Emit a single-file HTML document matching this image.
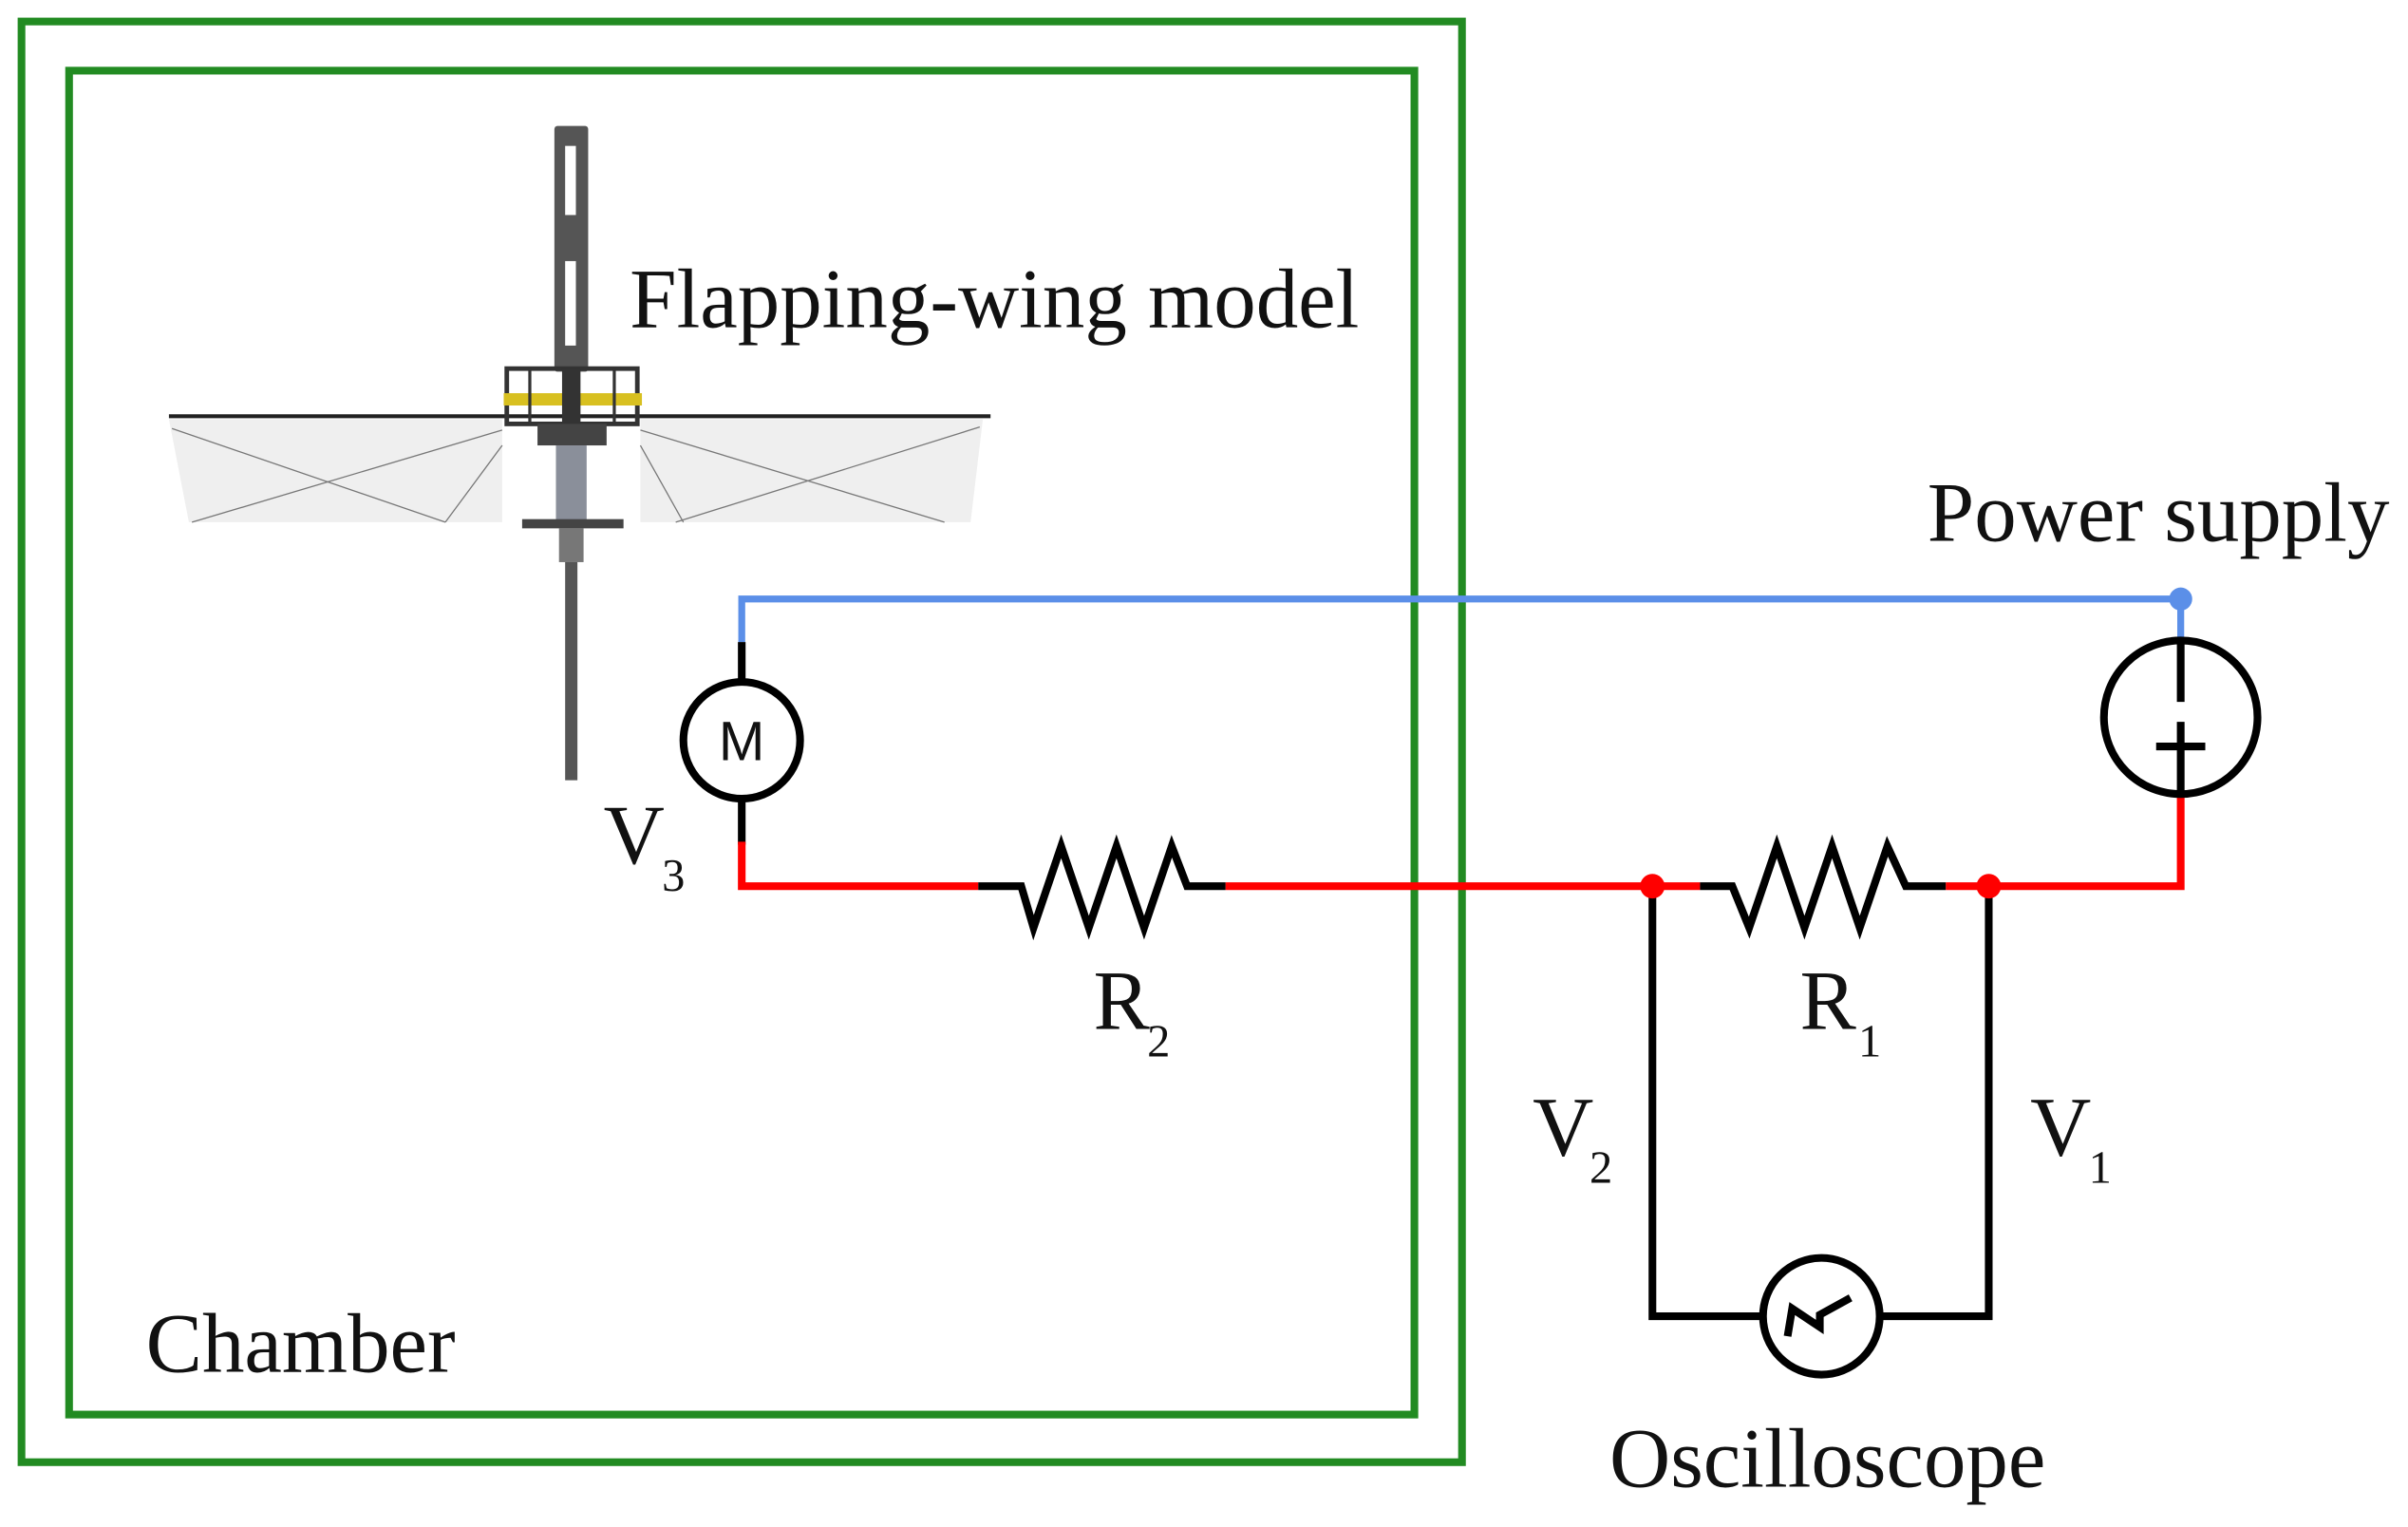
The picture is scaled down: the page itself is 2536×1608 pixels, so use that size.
<!DOCTYPE html>
<html><head><meta charset="utf-8"><style>
html,body{margin:0;padding:0;background:#fff;}
svg{display:block;}
text{font-family:"Liberation Serif",serif;fill:#111;}
</style></head><body>
<svg width="2536" height="1608" viewBox="0 0 1568 994.2" preserveAspectRatio="none" xmlns="http://www.w3.org/2000/svg">
<rect width="1568" height="994.2" fill="#fff"/>
<!-- chamber -->
<rect x="14" y="14" width="938" height="938" fill="none" stroke="#228b22" stroke-width="5"/>
<rect x="45" y="46" width="876" height="875" fill="none" stroke="#228b22" stroke-width="5"/>

<!-- wing model -->
<polygon points="110,273 327,273 327,340 123,340" fill="#efefef"/>
<polygon points="417,273 640,273 632,340 417,340" fill="#efefef"/>
<g stroke="#777" stroke-width="0.8" fill="none">
<line x1="112" y1="279" x2="290" y2="340"/><line x1="125" y1="340" x2="327" y2="280"/>
<line x1="290" y1="340" x2="327" y2="290"/>
<line x1="417" y1="280" x2="615" y2="340"/><line x1="440" y1="340" x2="638" y2="278"/>
<line x1="417" y1="290" x2="445" y2="340"/>
</g>
<line x1="110" y1="271" x2="645" y2="271" stroke="#222" stroke-width="2.5"/>
<rect x="361" y="82" width="22" height="160" rx="2" fill="#555"/>
<rect x="368" y="95" width="7" height="45" fill="#fff"/>
<rect x="368" y="170" width="7" height="55" fill="#fff"/>
<rect x="330" y="240" width="85" height="36" fill="none" stroke="#333" stroke-width="3"/>
<rect x="328" y="256" width="90" height="8" fill="#d8c020"/>
<line x1="345" y1="240" x2="345" y2="276" stroke="#333" stroke-width="2"/>
<line x1="400" y1="240" x2="400" y2="276" stroke="#333" stroke-width="2"/>
<rect x="366" y="240" width="12" height="40" fill="#333"/>
<rect x="350" y="276" width="45" height="14" fill="#444"/>
<rect x="362" y="290" width="20" height="50" fill="#8a8f9a"/>
<rect x="340" y="338" width="66" height="6" fill="#444"/>
<rect x="364" y="344" width="16" height="22" fill="#777"/>
<rect x="368" y="366" width="8" height="142" fill="#555"/>

<!-- blue wire -->
<polyline points="483,418 483,390 1420,390 1420,418" fill="none" stroke="#5b8fe8" stroke-width="4.5"/>
<circle cx="1420" cy="390" r="7.5" fill="#5b8fe8"/>

<!-- motor -->
<line x1="483" y1="418" x2="483" y2="444" stroke="#000" stroke-width="5"/>
<circle cx="483" cy="482" r="38" fill="#fff" stroke="#000" stroke-width="5"/>
<text x="483" y="495" text-anchor="middle" font-size="36" style="font-family:'Liberation Sans',sans-serif">M</text>
<line x1="483" y1="520" x2="483" y2="550" stroke="#000" stroke-width="5"/>

<!-- red wire -->
<polyline points="483,548 483,577 637,577" fill="none" stroke="#f00" stroke-width="5"/>
<line x1="798" y1="577" x2="1107" y2="577" stroke="#f00" stroke-width="5"/>
<polyline points="1267,577 1420,577 1420,517" fill="none" stroke="#f00" stroke-width="5"/>

<!-- R2 -->
<polyline points="637,577 665,577 673,604 691,551 709,604 727,551 745,604 763,551 773,577 798,577" fill="none" stroke="#000" stroke-width="5"/>
<!-- R1 -->
<polyline points="1107,577 1128,577 1139,604 1157,551 1175,604 1193,551 1211,604 1229,551 1241,577 1267,577" fill="none" stroke="#000" stroke-width="5"/>

<!-- power supply -->
<circle cx="1420" cy="467" r="50" fill="#fff" stroke="#000" stroke-width="5"/>
<line x1="1420" y1="418" x2="1420" y2="457" stroke="#000" stroke-width="5"/>
<line x1="1420" y1="470" x2="1420" y2="517" stroke="#000" stroke-width="5"/>
<line x1="1404" y1="486" x2="1436" y2="486" stroke="#000" stroke-width="5"/>

<!-- oscilloscope loop -->
<polyline points="1076,577 1076,857 1148,857" fill="none" stroke="#000" stroke-width="5"/>
<polyline points="1295,577 1295,857 1224,857" fill="none" stroke="#000" stroke-width="5"/>
<circle cx="1186" cy="857" r="38" fill="#fff" stroke="#000" stroke-width="5"/>
<polyline points="1164,870 1167,852 1185,864 1185,856 1205,845" fill="none" stroke="#000" stroke-width="5"/>
<circle cx="1076" cy="577" r="8" fill="#f00"/>
<circle cx="1295" cy="577" r="8" fill="#f00"/>

<!-- labels -->
<text x="410" y="213" font-size="55">Flapping-wing model</text>
<text x="1255" y="352" font-size="55">Power supply</text>
<text x="95" y="893" font-size="55">Chamber</text>
<text x="1048" y="968" font-size="55">Oscilloscope</text>
<text x="393" y="562" font-size="55">V</text><text x="431" y="580" font-size="30">3</text>
<text x="712" y="670" font-size="55">R</text><text x="747" y="688" font-size="30">2</text>
<text x="1172" y="670" font-size="55">R</text><text x="1210" y="688" font-size="30">1</text>
<text x="998" y="752" font-size="55">V</text><text x="1035" y="770" font-size="30">2</text>
<text x="1322" y="752" font-size="55">V</text><text x="1360" y="770" font-size="30">1</text>
</svg>
</body></html>
